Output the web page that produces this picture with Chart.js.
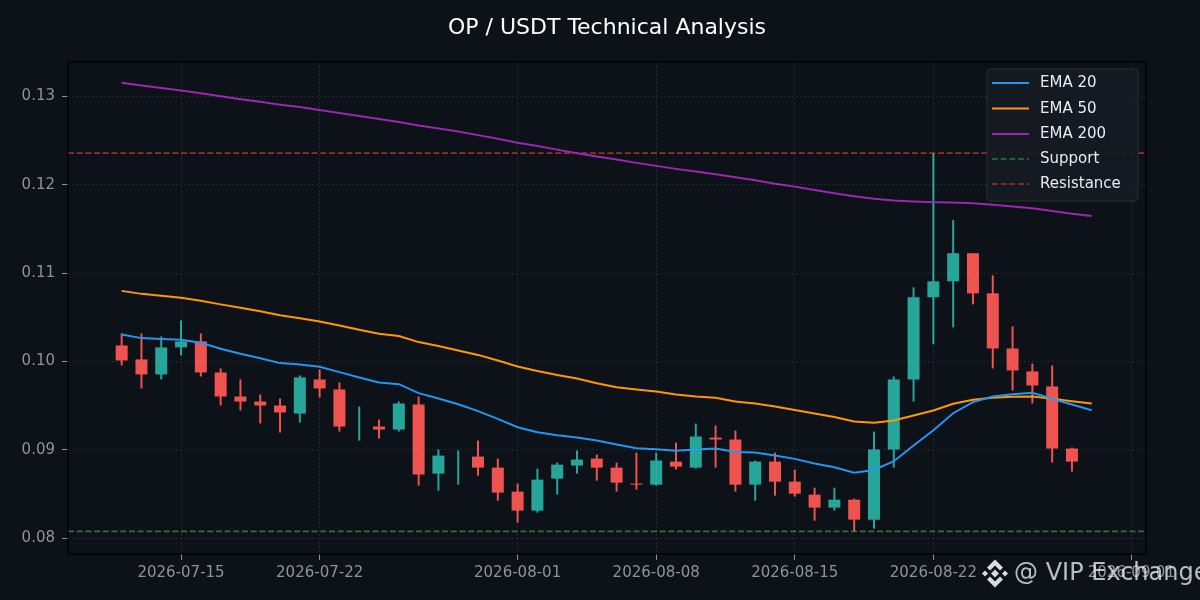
<!DOCTYPE html>
<html>
<head>
<meta charset="utf-8">
<title>OP / USDT Technical Analysis</title>
<script src="https://cdn.jsdelivr.net/npm/chart.js@4/dist/chart.umd.min.js"></script>
<style>
    html, body { margin: 0; padding: 0; background: #0d1118; }
    canvas { display: block; }
</style>
</head>
<body>
<canvas id="myChart" width="1200" height="600"></canvas>
<script>
const dates = [
    '2026-07-12', '2026-07-13', '2026-07-14', '2026-07-15', '2026-07-16', '2026-07-17', '2026-07-18', '2026-07-19', '2026-07-20', '2026-07-21',
    '2026-07-22', '2026-07-23', '2026-07-24', '2026-07-25', '2026-07-26', '2026-07-27', '2026-07-28', '2026-07-29', '2026-07-30', '2026-07-31',
    '2026-08-01', '2026-08-02', '2026-08-03', '2026-08-04', '2026-08-05', '2026-08-06', '2026-08-07', '2026-08-08', '2026-08-09', '2026-08-10',
    '2026-08-11', '2026-08-12', '2026-08-13', '2026-08-14', '2026-08-15', '2026-08-16', '2026-08-17', '2026-08-18', '2026-08-19', '2026-08-20',
    '2026-08-21', '2026-08-22', '2026-08-23', '2026-08-24', '2026-08-25', '2026-08-26', '2026-08-27', '2026-08-28', '2026-08-29', '2026-08-30'
];

const opens = [
    0.10181, 0.10023, 0.09853, 0.10159, 0.10227, 0.09875, 0.09603, 0.09546, 0.09501, 0.09410,
    0.09796, 0.09683, 0.09263, 0.09263, 0.09229, 0.09512, 0.08730, 0.08934, 0.08923, 0.08798,
    0.08526, 0.08311, 0.08673, 0.08821, 0.08900, 0.08798, 0.08617, 0.08605, 0.08866, 0.08798,
    0.09138, 0.09116, 0.08605, 0.08866, 0.08639, 0.08492, 0.08345, 0.08435, 0.08209, 0.09002,
    0.09796, 0.10726, 0.10907, 0.11225, 0.10771, 0.10147, 0.09887, 0.09717, 0.09014
];
const highs = [
    0.10317, 0.10317, 0.10283, 0.10465, 0.10317, 0.09921, 0.09796, 0.09626, 0.09580, 0.09841,
    0.09909, 0.09762, 0.09490, 0.09342, 0.09546, 0.09603, 0.09002, 0.08991, 0.09104, 0.08900,
    0.08617, 0.08787, 0.08855, 0.08991, 0.08946, 0.08855, 0.08968, 0.08968, 0.09082, 0.09297,
    0.09274, 0.09218, 0.08878, 0.08968, 0.08775, 0.08571, 0.08571, 0.08447, 0.09206, 0.09830,
    0.10839, 0.12358, 0.11599, 0.11225, 0.10975, 0.10397, 0.09977, 0.09955, 0.09025
];
const lows = [
    0.09955, 0.09694, 0.09796, 0.10068, 0.09830, 0.09501, 0.09444, 0.09297, 0.09195, 0.09308,
    0.09592, 0.09206, 0.09104, 0.09127, 0.09206, 0.08594, 0.08537, 0.08605, 0.08707, 0.08424,
    0.08175, 0.08288, 0.08492, 0.08730, 0.08651, 0.08526, 0.08549, 0.08594, 0.08775, 0.08787,
    0.08798, 0.08526, 0.08424, 0.08481, 0.08469, 0.08197, 0.08311, 0.08076, 0.08107, 0.08798,
    0.09546, 0.10193, 0.10385, 0.10646, 0.09921, 0.09671, 0.09524, 0.08855, 0.08753
];
const closes = [
    0.10011, 0.09853, 0.10159, 0.10227, 0.09875, 0.09603, 0.09546, 0.09501, 0.09422, 0.09819,
    0.09694, 0.09263, 0.09263, 0.09229, 0.09524, 0.08719, 0.08934, 0.08934, 0.08798, 0.08515,
    0.08311, 0.08662, 0.08832, 0.08889, 0.08798, 0.08628, 0.08605, 0.08878, 0.08809, 0.09150,
    0.09116, 0.08605, 0.08866, 0.08639, 0.08503, 0.08345, 0.08435, 0.08209, 0.09002, 0.09796,
    0.10726, 0.10907, 0.11225, 0.10771, 0.10147, 0.09898, 0.09728, 0.09014, 0.08866
];

const ema20 = [
    0.10306, 0.10264, 0.10253, 0.10246, 0.10212, 0.10144, 0.10087, 0.10037, 0.09981, 0.09966,
    0.09940, 0.09879, 0.09819, 0.09762, 0.09743, 0.09641, 0.09581, 0.09516, 0.09437, 0.09350,
    0.09255, 0.09198, 0.09164, 0.09138, 0.09104, 0.09059, 0.09017, 0.09006, 0.08988, 0.09002,
    0.09014, 0.08976, 0.08968, 0.08934, 0.08897, 0.08844, 0.08802, 0.08741, 0.08772, 0.08870,
    0.09048, 0.09221, 0.09414, 0.09539, 0.09603, 0.09629, 0.09645, 0.09577, 0.09512, 0.09448
];
const ema50 = [
    0.10799, 0.10765, 0.10743, 0.10720, 0.10686, 0.10646, 0.10607, 0.10567, 0.10522, 0.10488,
    0.10453, 0.10408, 0.10359, 0.10314, 0.10287, 0.10219, 0.10174, 0.10125, 0.10074, 0.10011,
    0.09943, 0.09892, 0.09847, 0.09807, 0.09754, 0.09709, 0.09683, 0.09660, 0.09626, 0.09603,
    0.09588, 0.09546, 0.09524, 0.09490, 0.09450, 0.09410, 0.09371, 0.09320, 0.09305, 0.09331,
    0.09388, 0.09444, 0.09520, 0.09566, 0.09588, 0.09600, 0.09603, 0.09577, 0.09550, 0.09524
];
const ema200 = [
    0.13155, 0.13124, 0.13095, 0.13067, 0.13035, 0.13001, 0.12968, 0.12939, 0.12907, 0.12880,
    0.12846, 0.12812, 0.12778, 0.12744, 0.12710, 0.12670, 0.12636, 0.12602, 0.12562, 0.12520,
    0.12475, 0.12438, 0.12398, 0.12358, 0.12321, 0.12285, 0.12248, 0.12214, 0.12180, 0.12151,
    0.12120, 0.12086, 0.12052, 0.12012, 0.11979, 0.11942, 0.11905, 0.11871, 0.11842, 0.11822,
    0.11811, 0.11803, 0.11798, 0.11791, 0.11774, 0.11754, 0.11735, 0.11704, 0.11672, 0.11647
];

const supportLevel = 0.08076;
const resistanceLevel = 0.12358;

const xTickDates = ['2026-07-15', '2026-07-22', '2026-08-01', '2026-08-08', '2026-08-15', '2026-08-22', '2026-09-01'];
const yTickValues = [0.08, 0.09, 0.10, 0.11, 0.12, 0.13];

const UP = '#26a69a';
const DOWN = '#ef5350';
const BG = '#0d1118';
const TICK = '#8b949e';
const MS_DAY = 86400000;

// linear x axis in whole days, the date adapter is not available here
function dayNum(str) {
    return Date.parse(str + 'T00:00:00Z') / MS_DAY;
}
function dayLabel(num) {
    return new Date(num * MS_DAY).toISOString().slice(0, 10);
}

const xMin = dayNum('2026-07-15') - 5.71;
const xMax = dayNum('2026-07-15') + 48.74;

const candleColors = opens.map((o, i) => closes[i] >= o ? UP : DOWN);

function lineSeries(label, values, color) {
    return {
        type: 'line',
        label: label,
        data: values.map((v, i) => ({ x: dayNum(dates[i]), y: v })),
        borderColor: color,
        borderWidth: 2,
        pointRadius: 0,
        tension: 0,
        order: 1
    };
}

function levelSeries(label, level, color) {
    return {
        type: 'line',
        label: label,
        data: [{ x: xMin, y: level }, { x: xMax, y: level }],
        borderColor: color,
        borderWidth: 1.6,
        borderDash: [6, 2.7],
        pointRadius: 0,
        order: 2
    };
}

// frame, legend and watermark go on top of the datasets
const overlay = {
    id: 'overlay',
    afterDraw(chart) {
        const ctx = chart.ctx;
        const area = chart.chartArea;

        ctx.save();
        ctx.strokeStyle = '#000000';
        ctx.lineWidth = 1.2;
        ctx.strokeRect(area.left, area.top, area.right - area.left, area.bottom - area.top);

        // legend box
        ctx.beginPath();
        ctx.roundRect(987, 69, 151, 132, 4);
        ctx.fillStyle = 'rgba(22, 27, 34, 0.9)';
        ctx.fill();
        ctx.strokeStyle = '#2a2f37';
        ctx.lineWidth = 1;
        ctx.stroke();

        ctx.font = '15px "DejaVu Sans"';
        ctx.textBaseline = 'middle';
        ctx.textAlign = 'left';
        const rowY = [83, 108.5, 134, 159, 184];
        chart.data.datasets.filter(d => d.label).forEach((d, i) => {
            ctx.beginPath();
            ctx.strokeStyle = d.borderColor;
            ctx.lineWidth = d.borderWidth;
            ctx.setLineDash(d.borderDash || []);
            ctx.moveTo(992, rowY[i]);
            ctx.lineTo(1029, rowY[i]);
            ctx.stroke();
            ctx.setLineDash([]);
            ctx.fillStyle = '#e6edf3';
            ctx.fillText(d.label, 1040, rowY[i] + 0.5);
        });

        // watermark
        ctx.fillStyle = 'rgba(255, 255, 255, 0.72)';
        ctx.font = '24px "DejaVu Sans"';
        ctx.fillText('@ VIP Exchange', 1014, 574);
        ctx.fillStyle = 'rgba(255, 255, 255, 0.85)';
        drawLogo(ctx, 995, 573.5);
        ctx.restore();
    }
};

function drawLogo(ctx, cx, cy) {
    const shapes = [
        [[0, -4], [4, 0], [0, 4], [-4, 0]],
        [[-10, -3], [-7, 0], [-10, 3], [-13, 0]],
        [[10, -3], [13, 0], [10, 3], [7, 0]],
        [[0, -14], [8, -6], [5, -3], [0, -8], [-5, -3], [-8, -6]],
        [[0, 14], [8, 6], [5, 3], [0, 8], [-5, 3], [-8, 6]]
    ];
    shapes.forEach(shape => {
        ctx.beginPath();
        shape.forEach((p, i) => {
            if (i === 0) {
                ctx.moveTo(cx + p[0], cy + p[1]);
            } else {
                ctx.lineTo(cx + p[0], cy + p[1]);
            }
        });
        ctx.closePath();
        ctx.fill();
    });
}

const gridOptions = {
    color: 'rgba(255, 255, 255, 0.13)',
    lineWidth: 1,
    offset: false,
    z: 1,
    tickColor: TICK,
    tickLength: 6,
    tickWidth: 1
};

new Chart(document.getElementById('myChart').getContext('2d'), {
    data: {
        datasets: [
            lineSeries('EMA 20', ema20, '#2196f3'),
            lineSeries('EMA 50', ema50, '#ff9800'),
            lineSeries('EMA 200', ema200, '#9c27b0'),
            levelSeries('Support', supportLevel, 'rgba(76, 175, 80, 0.6)'),
            levelSeries('Resistance', resistanceLevel, 'rgba(244, 67, 54, 0.6)'),
            {
                type: 'bar',
                data: opens.map((o, i) => ({ x: dayNum(dates[i]), y: [lows[i], highs[i]] })),
                backgroundColor: candleColors,
                barThickness: 2,
                grouped: false,
                inflateAmount: 0,
                order: 3
            },
            {
                type: 'bar',
                data: opens.map((o, i) => ({ x: dayNum(dates[i]), y: [o, closes[i]] })),
                backgroundColor: candleColors,
                barThickness: 12,
                grouped: false,
                inflateAmount: 0,
                order: 3
            }
        ]
    },
    options: {
        responsive: false,
        animation: false,
        layout: { padding: { left: 0, right: 54, top: 0, bottom: 0 } },
        plugins: {
            legend: { display: false },
            tooltip: { enabled: false },
            title: {
                display: true,
                text: 'OP / USDT Technical Analysis',
                color: '#ffffff',
                fullSize: false,
                font: { family: '"DejaVu Sans"', size: 22, weight: 'normal' },
                padding: { top: 15, bottom: 20.6 }
            }
        },
        scales: {
            x: {
                type: 'linear',
                min: xMin,
                max: xMax,
                offset: false,
                grid: gridOptions,
                border: { display: false, dash: [1.5, 2.5] },
                afterBuildTicks: scale => {
                    scale.ticks = xTickDates.map(d => ({ value: dayNum(d) }));
                },
                afterFit: scale => {
                    scale.height = 46;
                },
                ticks: {
                    color: TICK,
                    font: { family: '"DejaVu Sans"', size: 15 },
                    padding: 4,
                    autoSkip: false,
                    maxRotation: 0,
                    callback: value => dayLabel(value)
                }
            },
            y: {
                type: 'linear',
                min: 0.0782,
                max: 0.1339,
                grid: gridOptions,
                border: { display: false, dash: [1.5, 2.5] },
                afterBuildTicks: scale => {
                    scale.ticks = yTickValues.map(v => ({ value: v }));
                },
                afterFit: scale => {
                    scale.width = 68;
                },
                ticks: {
                    color: TICK,
                    font: { family: '"DejaVu Sans"', size: 15 },
                    padding: 7,
                    callback: value => value.toFixed(2)
                }
            }
        }
    },
    plugins: [overlay]
});
</script>
</body>
</html>
